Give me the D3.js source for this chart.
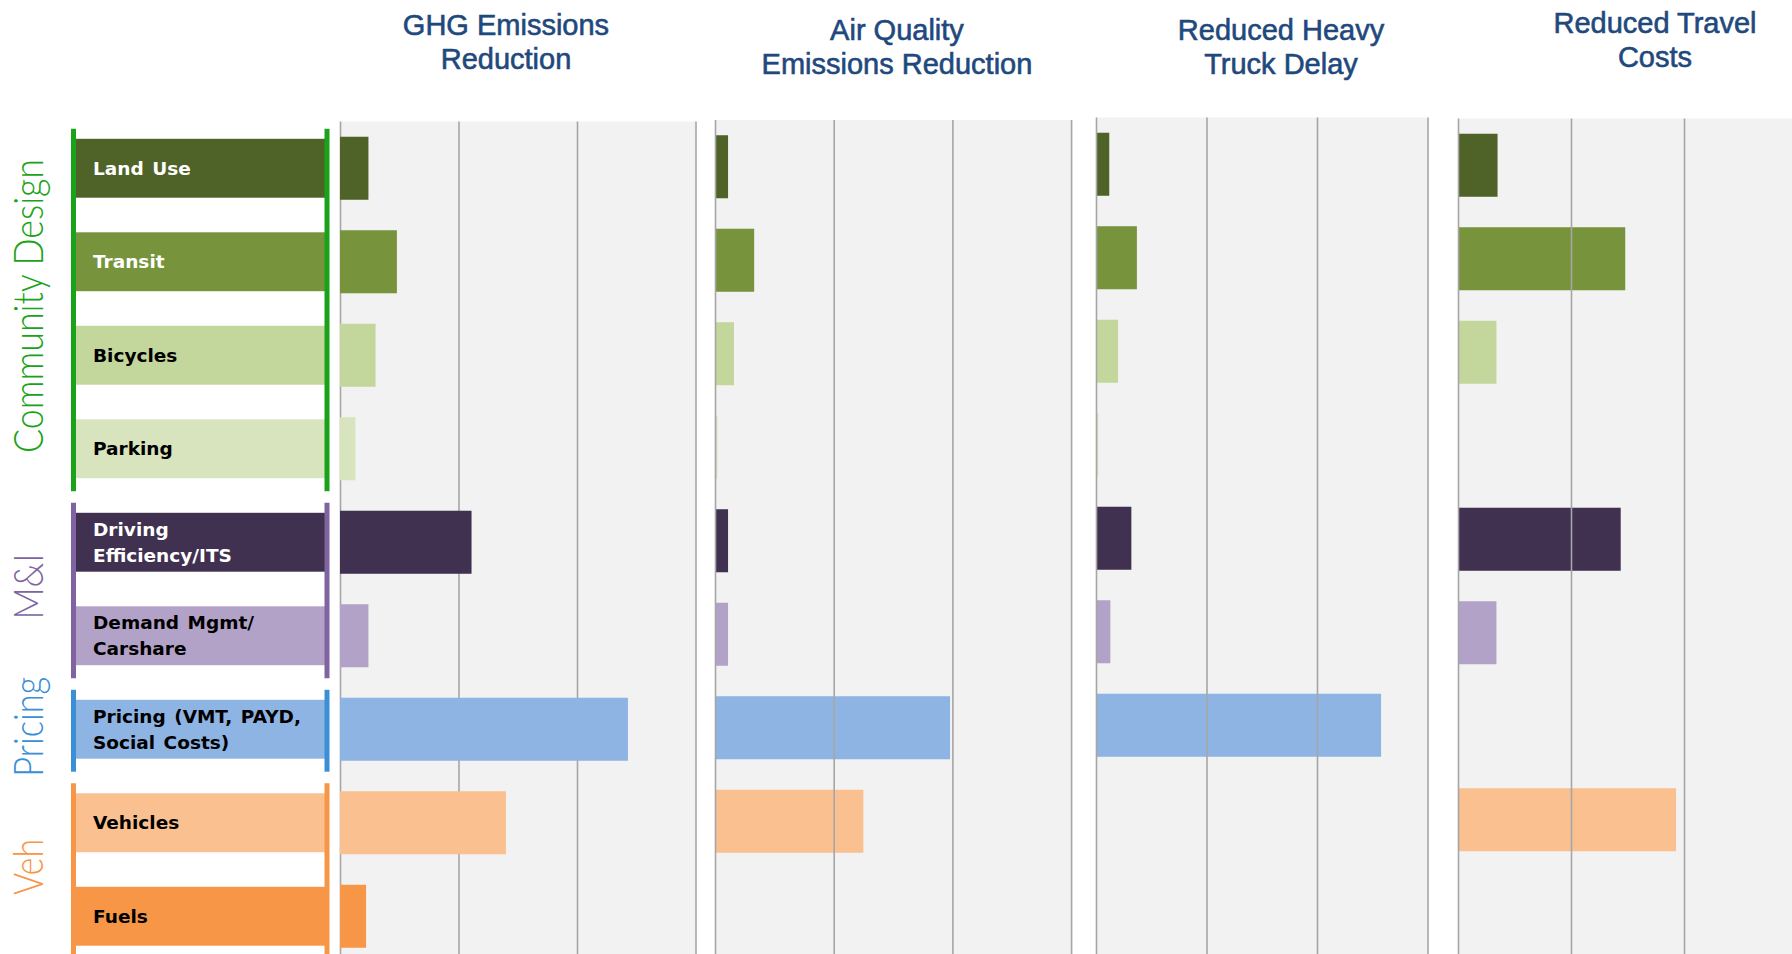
<!DOCTYPE html>
<html>
<head>
<meta charset="utf-8">
<script src="https://cdn.jsdelivr.net/npm/d3@7"></script>
<style>
  body { margin: 0; background: #fff; }
  svg { display: block; }
</style>
</head>
<body>
<svg width="1792" height="954"></svg>
<script>
// strategies (rows), top to bottom
var strategies = ["Land Use", "Transit", "Bicycles", "Parking", "Driving Efficiency/ITS",
  "Demand Mgmt/ Carshare", "Pricing (VMT, PAYD, Social Costs)", "Vehicles", "Fuels"];
var labelLines = [["Land Use"], ["Transit"], ["Bicycles"], ["Parking"], ["Driving", "Efficiency/ITS"],
  ["Demand Mgmt/", "Carshare"], ["Pricing (VMT, PAYD,", "Social Costs)"], ["Vehicles"], ["Fuels"]];
var strategyColors = ["#4f6228", "#77933c", "#c3d69b", "#d7e4bd", "#403151",
  "#b3a2c7", "#8eb4e3", "#fac090", "#f79646"];
var labelTextColors = ["#fff", "#fff", "#000", "#000", "#fff", "#000", "#000", "#000", "#000"];

// strategy groups
var groupNames = ["Community Design", "M&I", "Pricing", "Veh"];
var groupFirst = ["Land Use", "Driving Efficiency/ITS", "Pricing (VMT, PAYD, Social Costs)", "Vehicles"];
var groupLast = ["Parking", "Demand Mgmt/ Carshare", "Pricing (VMT, PAYD, Social Costs)", "Fuels"];
var groupColors = ["#1aa31a", "#8064a2", "#3a8fd6", "#f79646"];

// metric panels
var metricTitles = [["GHG Emissions", "Reduction"], ["Air Quality", "Emissions Reduction"],
  ["Reduced Heavy", "Truck Delay"], ["Reduced Travel", "Costs"]];
var ghgReduction = [0.24, 0.48, 0.30, 0.13, 1.11, 0.24, 2.43, 1.40, 0.22];
var airQualityReduction = [0.11, 0.33, 0.16, 0.02, 0.11, 0.11, 1.98, 1.25, 0];
var truckDelayReduction = [0.12, 0.37, 0.20, 0.02, 0.32, 0.13, 2.58, 0, 0];
var travelCostReduction = [0.35, 1.48, 0.34, 0, 1.44, 0.34, 0, 1.93, 0];
var gridTicks = [0, 1, 2, 3];

var seriesList = [ghgReduction, airQualityReduction, truckDelayReduction, travelCostReduction];

var svg = d3.select("svg"),
    width = +svg.attr("width"),
    height = +svg.attr("height");

var step = 93.5, rows = strategies.length;

// panel geometry
var panels = [
  {x0: 340, unit: 118.5, top: 121.5, tx: 506, ty: 35, gridOnTop: false},
  {x0: 715, unit: 118.7, top: 120, tx: 897, ty: 40, gridOnTop: true},
  {x0: 1096, unit: 110.5, top: 117.5, tx: 1281, ty: 40, gridOnTop: true},
  {x0: 1458, unit: 113, top: 118.5, tx: 1655, ty: 33, gridOnTop: true}
];

panels.forEach(function(p, i) {
  var x = d3.scaleLinear().domain([0, 3]).range([p.x0, p.x0 + 3 * p.unit]);
  var y = d3.scaleBand().domain(strategies)
      .range([p.top, p.top + rows * step])
      .paddingInner(0.326).paddingOuter(0.163);
  var data = strategies.map(function(s, j) { return {name: s, value: seriesList[i][j], color: strategyColors[j]}; });

  var g = svg.append("g").attr("class", "panel");

  g.append("rect")
      .attr("x", x(0)).attr("y", p.top)
      .attr("width", x(3) - x(0)).attr("height", height - p.top + 10)
      .attr("fill", "#f2f2f2");

  function drawGrid() {
    var grid = g.append("g")
        .attr("transform", "translate(0," + (height + 10) + ")")
        .call(d3.axisBottom(x).tickValues(gridTicks).tickSize(-(height + 10 - p.top)).tickFormat(""));
    grid.select(".domain").remove();
    grid.selectAll("line").attr("stroke", "#a6a6a6").attr("stroke-width", 1.6);
  }

  if (!p.gridOnTop) drawGrid();

  g.selectAll(".bar")
    .data(data.filter(function(d) { return d.value > 0; }))
    .enter().append("rect")
      .attr("class", "bar")
      .attr("x", x(0))
      .attr("y", function(d) { return y(d.name); })
      .attr("width", function(d) { return x(d.value) - x(0); })
      .attr("height", y.bandwidth())
      .attr("fill", function(d) { return d.color; });

  if (p.gridOnTop) drawGrid();

  g.append("text")
      .attr("x", p.tx).attr("y", p.ty)
      .attr("text-anchor", "middle")
      .attr("fill", "#1f497d")
      .attr("stroke", "#1f497d")
      .attr("stroke-width", 0.6)
      .style("font-family", "'Liberation Sans', Arial, sans-serif")
      .style("font-size", "29px")
    .selectAll("tspan")
    .data(metricTitles[i])
    .enter().append("tspan")
      .attr("x", p.tx)
      .attr("dy", function(d, k) { return k === 0 ? 0 : 34; })
      .text(function(d) { return d; });
});

// left label column
var yl = d3.scaleBand().domain(strategies)
    .range([121.5, 121.5 + rows * step])
    .paddingInner(0.37).paddingOuter(0.185);

var labels = svg.append("g").attr("class", "labels");

labels.selectAll("rect")
  .data(strategies)
  .enter().append("rect")
    .attr("x", 76).attr("y", function(d) { return yl(d); })
    .attr("width", 250).attr("height", yl.bandwidth())
    .attr("fill", function(d, j) { return strategyColors[j]; });

labels.selectAll("text")
  .data(strategies)
  .enter().append("text")
    .attr("x", 93)
    .attr("y", function(d) { return yl(d) + yl.bandwidth() / 2; })
    .attr("fill", function(d, j) { return labelTextColors[j]; })
    .style("font-family", "'DejaVu Sans', Verdana, sans-serif")
    .style("font-weight", "bold")
    .style("font-size", "18.5px")
    .style("word-spacing", "2px")
    .each(function(d, j) {
      var lines = labelLines[j];
      var t = d3.select(this);
      lines.forEach(function(l, k) {
        t.append("tspan")
          .attr("x", 93)
          .attr("dy", k === 0 ? (lines.length === 1 ? "0.35em" : "-0.36em") : "1.42em")
          .text(l);
      });
    });

// group brackets and names
var nameLengths = [294, 66, 100, 56];
groupNames.forEach(function(name, i) {
  var top = yl(groupFirst[i]) - 10,
      bottom = yl(groupLast[i]) + yl.bandwidth() + 13;
  [73.5, 327].forEach(function(lx) {
    svg.append("line")
      .attr("x1", lx).attr("x2", lx)
      .attr("y1", top).attr("y2", bottom)
      .attr("stroke", groupColors[i])
      .attr("stroke-width", 5);
  });
  var cy = (top + bottom) / 2 - 4;
  svg.append("text")
    .attr("transform", "translate(43," + cy + ") rotate(-90)")
    .attr("text-anchor", "middle")
    .attr("fill", groupColors[i])
    .attr("textLength", nameLengths[i])
    .attr("lengthAdjust", "spacingAndGlyphs")
    .style("font-family", "Lato, 'Open Sans', sans-serif")
    .style("font-weight", "300")
    .style("font-size", "41px")
    .text(name);
});
</script>
</body>
</html>
